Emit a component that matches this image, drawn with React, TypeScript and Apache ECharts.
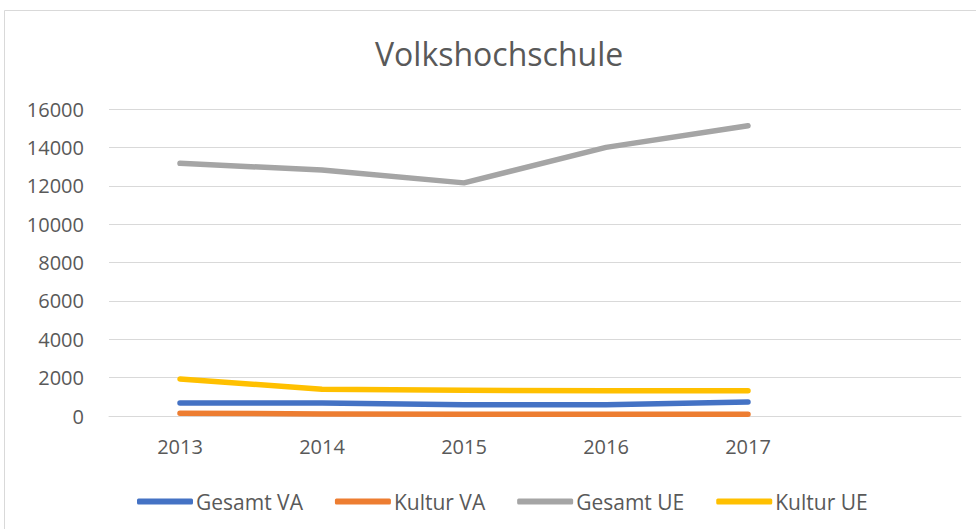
import React, { useEffect, useRef } from "react";
import * as echarts from "echarts";

const years = ["2013", "2014", "2015", "2016", "2017", ""];
const gesamtVA = [680, 680, 590, 590, 730];
const kulturVA = [140, 110, 90, 90, 90];
const gesamtUE = [13170, 12820, 12150, 14000, 15130];
const kulturUE = [1930, 1390, 1340, 1320, 1320];
const yTicks = { min: 0, max: 16000, interval: 2000 };

const FONT = "'Open Sans', sans-serif";
const TXT = "#595959";

export default function App() {
  const ref = useRef<HTMLDivElement>(null);
  useEffect(() => {
    const chart = echarts.init(ref.current!, undefined, { renderer: "svg" });
    const mk = (name: string, data: number[], color: string) => ({
      name,
      type: "line",
      data,
      showSymbol: false,
      symbol: "none",
      itemStyle: { color },
      lineStyle: { color, width: 5.5, cap: "round", join: "round" },
    });
    chart.setOption({
      animation: false,
      backgroundColor: "#fff",
      textStyle: { fontFamily: FONT },
      title: {
        text: "Volkshochschule",
        left: 370,
        top: 32,
        textStyle: { fontFamily: FONT, fontSize: 32, fontWeight: "normal", color: TXT },
      },
      graphic: [
        {
          type: "rect",
          shape: { x: 4.5, y: 10.5, width: 980, height: 530 },
          style: { fill: "none", stroke: "#d9d9d9", lineWidth: 1 },
          silent: true,
        },
      ],
      grid: { left: 109, right: 15, top: 109, bottom: 113, containLabel: false },
      xAxis: {
        type: "category",
        data: years,
        boundaryGap: true,
        axisLine: { lineStyle: { color: "#d9d9d9", width: 1 } },
        axisTick: { show: false },
        axisLabel: { color: TXT, fontSize: 20, fontFamily: FONT, margin: 20 },
      },
      yAxis: {
        type: "value",
        min: yTicks.min,
        max: yTicks.max,
        interval: yTicks.interval,
        axisLine: { show: false },
        axisTick: { show: false },
        splitLine: { lineStyle: { color: "#d9d9d9", width: 1 } },
        axisLabel: {
          color: TXT,
          fontSize: 20,
          fontFamily: FONT,
          margin: 25,
          formatter: (v: number) => String(v),
        },
      },
      legend: {
        top: 486,
        left: 132,
        icon: "roundRect",
        itemWidth: 56,
        itemHeight: 6,
        itemGap: 32,
        textStyle: { color: TXT, fontSize: 21, fontFamily: FONT, padding: [0, 0, 0, -2] },
      },
      series: [
        mk("Gesamt VA", gesamtVA, "#4472C4"),
        mk("Kultur VA", kulturVA, "#ED7D31"),
        mk("Gesamt UE", gesamtUE, "#A5A5A5"),
        mk("Kultur UE", kulturUE, "#FFC000"),
      ],
    });
    return () => chart.dispose();
  }, []);
  return (
    <div
      ref={ref}
      style={{ position: "fixed", left: 0, top: 0, width: 976, height: 529, background: "#fff" }}
    />
  );
}
